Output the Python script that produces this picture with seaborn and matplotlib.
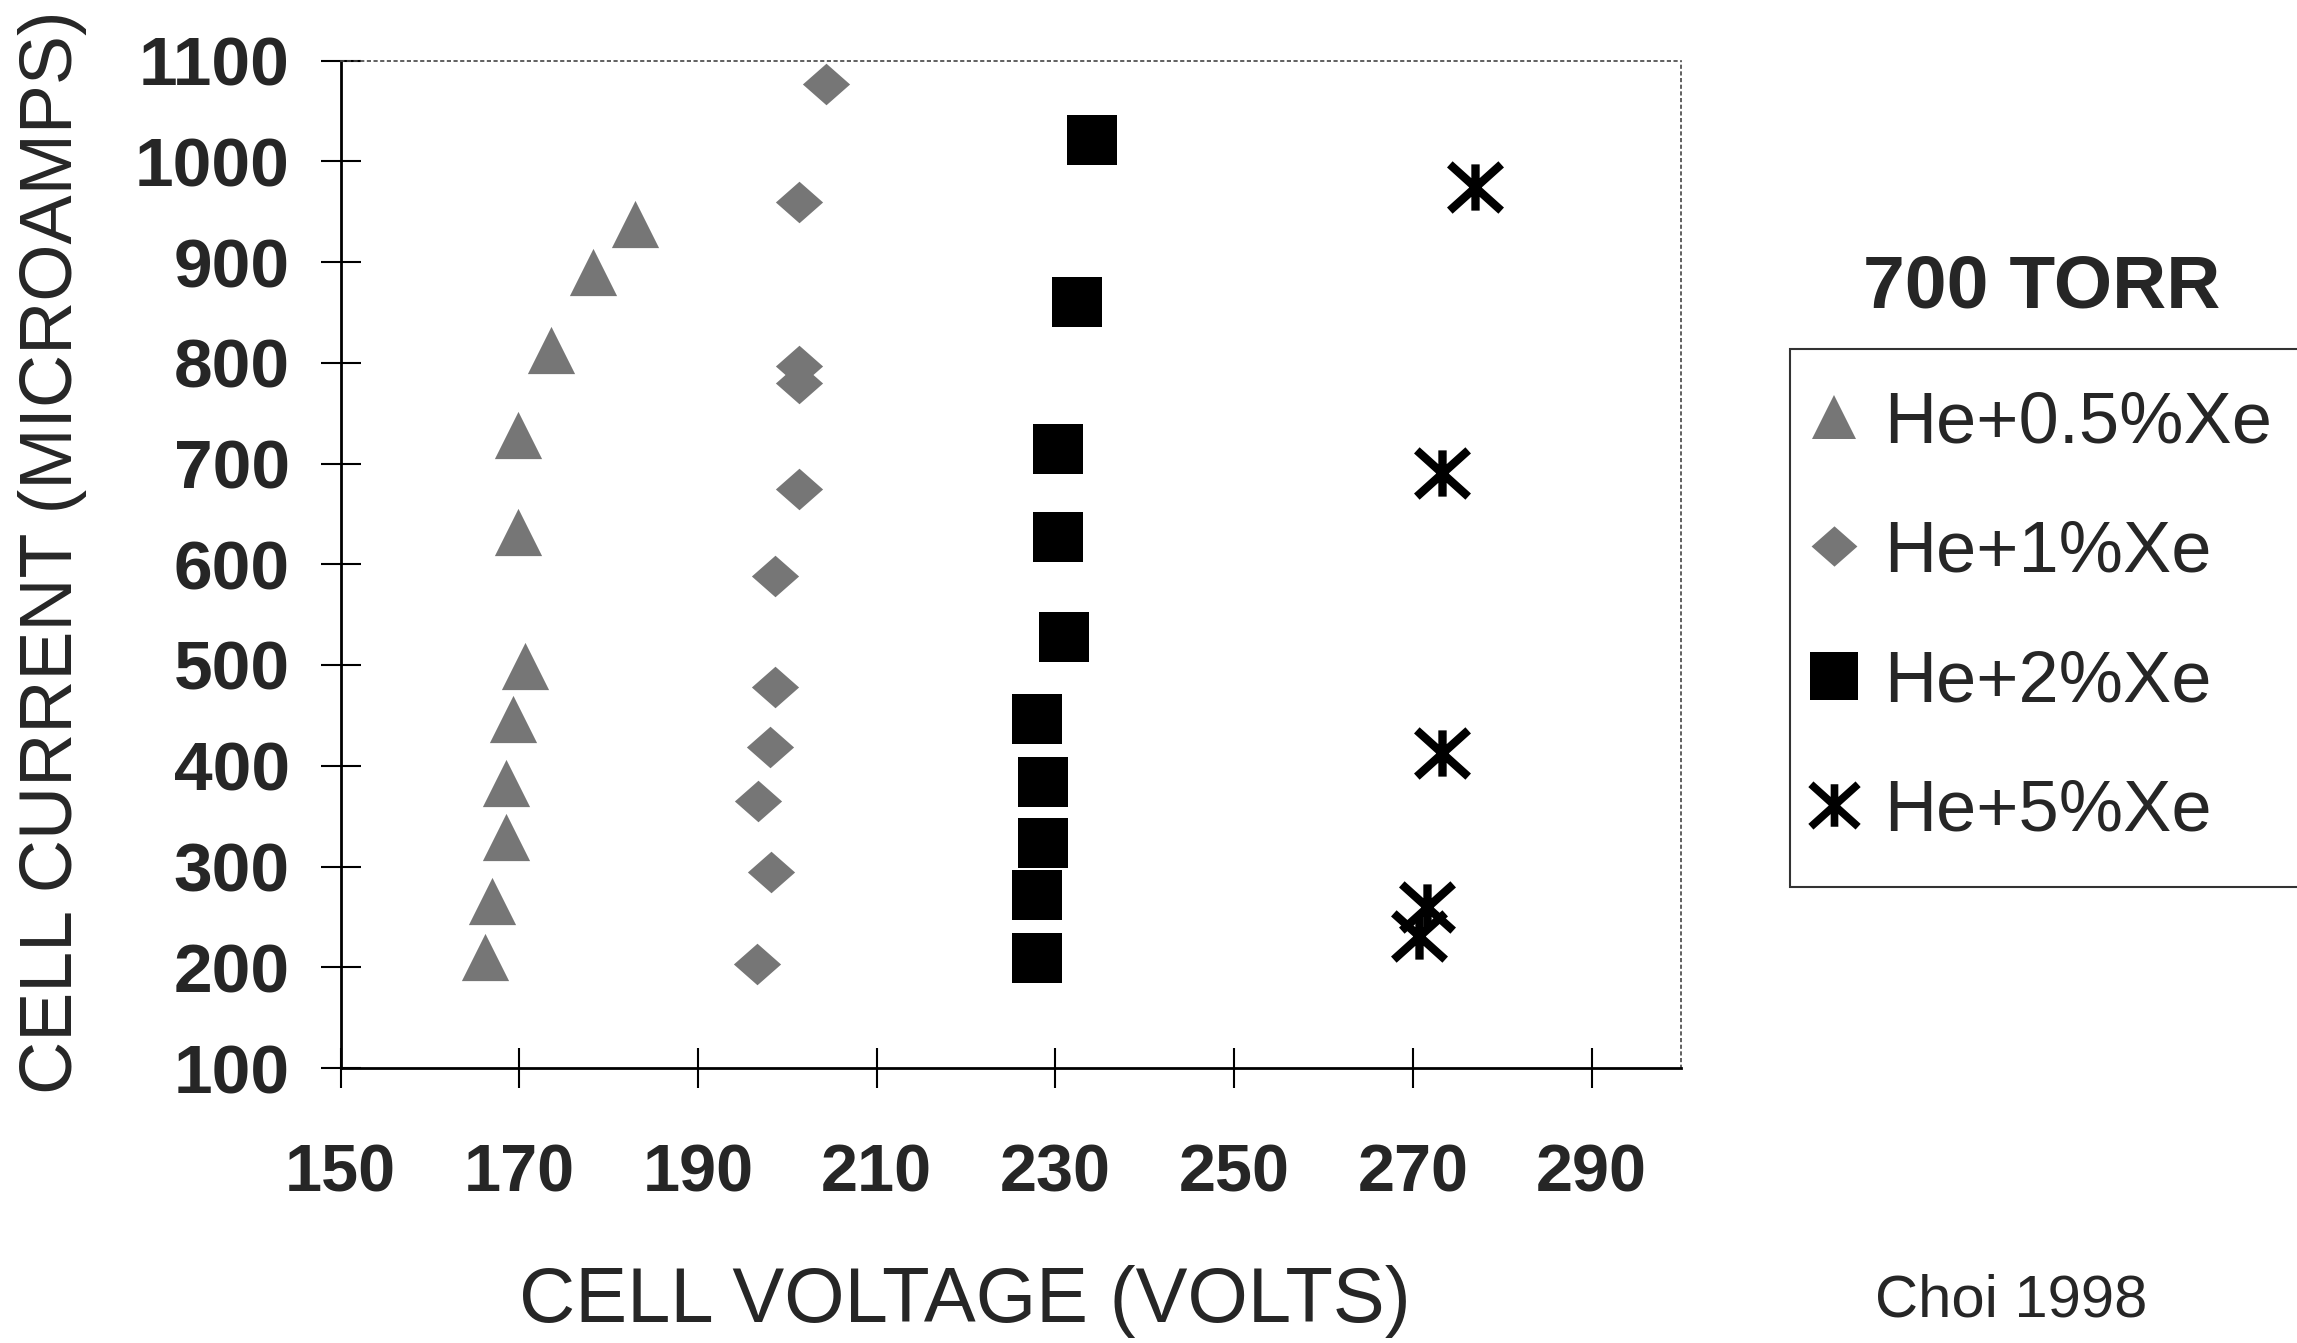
import numpy as np
import pandas as pd
import seaborn as sns
import matplotlib.pyplot as plt
from matplotlib.path import Path
from matplotlib.lines import Line2D

# ---------------- data ----------------
series_names = ["He+0.5%Xe", "He+1%Xe", "He+2%Xe", "He+5%Xe"]

xe05_volts = [166.2, 167.0, 168.5, 168.5, 169.3, 170.6, 169.9, 169.9, 173.6, 178.2, 182.9]
xe05_current = [210, 266, 329, 383, 446, 499, 632, 728, 813, 890, 938]

xe1_volts = [196.6, 198.2, 196.7, 198.1, 198.6, 198.6, 201.3, 201.3, 201.3, 201.3, 204.3]
xe1_current = [203, 295, 365, 419, 478, 588, 675, 780, 797, 960, 1077]

xe2_volts = [227.9, 227.9, 228.6, 228.6, 227.9, 231.0, 230.3, 230.3, 232.4, 234.1]
xe2_current = [209, 272, 323, 384, 446, 528, 627, 714, 860, 1021]

xe5_volts = [270.7, 271.6, 273.3, 273.3, 276.9]
xe5_current = [231, 260, 413, 691, 974]

x_ticks = [150, 170, 190, 210, 230, 250, 270, 290]
y_ticks = [100, 200, 300, 400, 500, 600, 700, 800, 900, 1000, 1100]
x_tick_labels = ["150", "170", "190", "210", "230", "250", "270", "290"]
y_tick_labels = ["100", "200", "300", "400", "500", "600", "700", "800", "900", "1000", "1100"]

x_label = "CELL VOLTAGE (VOLTS)"
y_label = "CELL CURRENT (MICROAMPS)"
legend_title = "700 TORR"
credit = "Choi 1998"

# ---------------- style ----------------
sns.set_style("white")
plt.rcParams["font.family"] = ["Liberation Sans", "DejaVu Sans"]

W, H = 2297, 1343
fig = plt.figure(figsize=(W / 100, H / 100), dpi=100)
ax_l, ax_r, ax_t, ax_b = 340.5, 1681, 60.5, 1068
ax = fig.add_axes([ax_l / W, 1 - ax_b / H, (ax_r - ax_l) / W, (ax_b - ax_t) / H])

GRAY = "#767676"

# asterisk marker: vertical bar + two diagonals
STAR = Path([(0, -0.9), (0, 0.9), (-1, -0.9), (1, 0.9), (-1, 0.9), (1, -0.9)],
            [Path.MOVETO, Path.LINETO] * 3)
# slightly flattened diamond
DIAM = Path([(-1, 0), (0, 0.88), (1, 0), (0, -0.88), (-1, 0)],
            [Path.MOVETO, Path.LINETO, Path.LINETO, Path.LINETO, Path.CLOSEPOLY])

sns.scatterplot(x=xe05_volts, y=xe05_current, marker="^", s=34 ** 2,
                color=GRAY, edgecolor=GRAY, linewidth=0, ax=ax)
sns.scatterplot(x=xe1_volts, y=xe1_current, marker=DIAM, s=34 ** 2,
                color=GRAY, edgecolor=GRAY, linewidth=0, ax=ax)
sns.scatterplot(x=xe2_volts, y=xe2_current, marker="s", s=36 ** 2,
                color="black", edgecolor="black", linewidth=0, ax=ax)
sns.scatterplot(x=xe5_volts, y=xe5_current, marker=STAR, s=37 ** 2,
                color="black", edgecolor="black", linewidth=6, ax=ax)

ax.set_xlim(150, 300)
ax.set_ylim(100, 1100)
ax.set_xticks(x_ticks)
ax.set_yticks(y_ticks)
ax.set_xticklabels(x_tick_labels, fontweight="bold")
ax.set_yticklabels(y_tick_labels, fontweight="bold")
ax.tick_params(axis="both", direction="inout", length=29, width=1.5,
               color="black", top=False, right=False, bottom=True, left=True)
ax.tick_params(axis="y", labelsize=50, pad=22)
ax.tick_params(axis="x", labelsize=48, pad=40)

for side in ["left", "bottom"]:
    ax.spines[side].set_color("black")
    ax.spines[side].set_linewidth(2.0)
for side in ["top", "right"]:
    ax.spines[side].set_color("#444444")
    ax.spines[side].set_linewidth(1.2)
    ax.spines[side].set_linestyle((0, (1.5, 2.5)))

ax.set_xlabel(x_label, fontsize=56)
ax.xaxis.set_label_coords((965 - ax_l) / (ax_r - ax_l), (ax_b - 1301) / (ax_b - ax_t))
ax.xaxis.label.set_va("center")
ax.set_ylabel(y_label, fontsize=53)
ax.yaxis.set_label_coords((53 - ax_l) / (ax_r - ax_l), (ax_b - 552) / (ax_b - ax_t))
ax.yaxis.label.set_va("center")

fig.text(2042 / W, 1 - 288 / H, legend_title, fontsize=54, fontweight="bold",
         ha="center", va="center")
fig.text(2011 / W, 1 - 1301 / H, credit, fontsize=43, ha="center", va="center")

handles = [
    Line2D([], [], ls="none", marker="^", ms=31, mfc=GRAY, mec=GRAY, mew=0),
    Line2D([], [], ls="none", marker=DIAM, ms=33, mfc=GRAY, mec=GRAY, mew=0),
    Line2D([], [], ls="none", marker="s", ms=34, mfc="black", mec="black", mew=0),
    Line2D([], [], ls="none", marker=STAR, ms=34, mfc="black", mec="black", mew=5.5),
]
leg = fig.legend(handles, series_names, loc="upper left",
                 bbox_to_anchor=(1790 / W, 1 - 349 / H), bbox_transform=fig.transFigure,
                 fontsize=52, frameon=True, fancybox=False, edgecolor="black",
                 borderpad=0.57, labelspacing=0.865, handlelength=0.08,
                 handletextpad=0.66, borderaxespad=0)
leg.get_frame().set_linewidth(1.5)

fig.savefig("out.png", dpi=100)
